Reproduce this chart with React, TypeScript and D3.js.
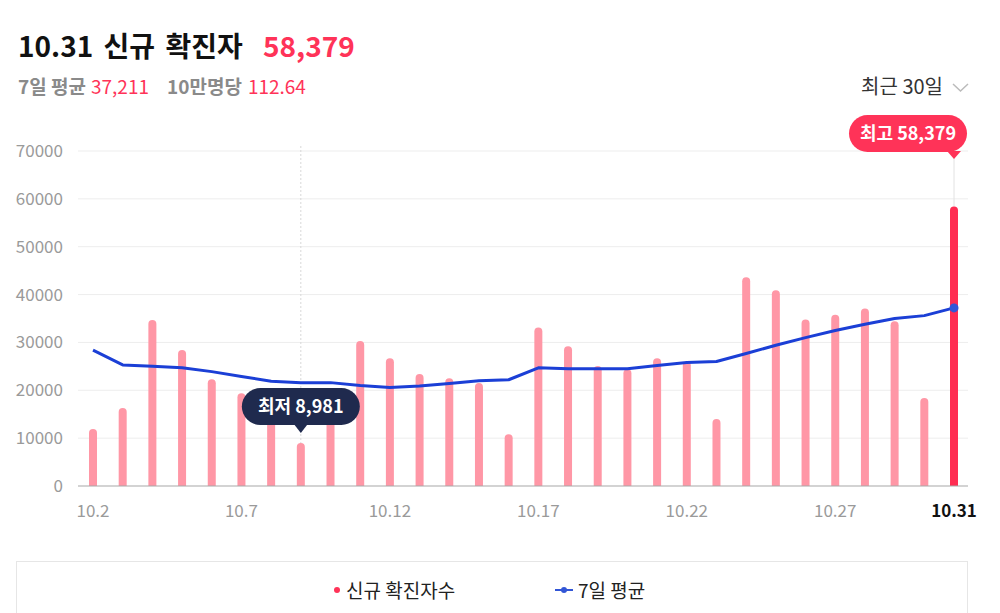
import React, { useRef, useEffect } from 'react';
import * as d3 from 'd3';

// 날짜 (10.2 ~ 10.31)
const dates = [
  '10.2', '10.3', '10.4', '10.5', '10.6', '10.7', '10.8', '10.9', '10.10', '10.11',
  '10.12', '10.13', '10.14', '10.15', '10.16', '10.17', '10.18', '10.19', '10.20', '10.21',
  '10.22', '10.23', '10.24', '10.25', '10.26', '10.27', '10.28', '10.29', '10.30', '10.31',
];
// 신규 확진자수
const cases = [
  11900, 16300, 34700, 28400, 22300, 19400, 16000, 8981, 15000, 30300,
  26700, 23400, 22500, 21500, 10800, 33100, 29200, 25100, 24400, 26700,
  26000, 14000, 43600, 40900, 34800, 35800, 37100, 34400, 18400, 58379,
];
// 7일 평균
const avg7 = [
  28400, 25300, 25000, 24700, 23900, 22900, 21900, 21600, 21600, 21000,
  20600, 20900, 21400, 22000, 22200, 24700, 24500, 24500, 24500, 25200,
  25800, 26000, 27700, 29400, 31000, 32500, 33800, 35000, 35600, 37211,
];
const yTicks = [0, 10000, 20000, 30000, 40000, 50000, 60000, 70000];
const xTickLabels = ['10.2', '10.7', '10.12', '10.17', '10.22', '10.27', '10.31'];

const FONT = '"Noto Sans CJK KR", "Noto Sans", sans-serif';
const RED = '#ff3358';
const PINK = '#ff97a6';
const BLUE = '#1b3fd6';

const App = () => {
  const ref = useRef<SVGSVGElement>(null);

  useEffect(() => {
    const svg = d3.select(ref.current);
    svg.selectAll('*').remove();
    svg.attr('font-family', FONT);

    const x = d3.scalePoint<string>().domain(dates).range([93, 954]);
    const y = d3.scaleLinear().domain([0, 70000]).range([486, 151]);

    // 헤더
    svg.append('text').attr('x', 18).attr('y', 57)
      .attr('font-size', 28).attr('font-weight', 700).attr('word-spacing', 4)
      .attr('fill', '#111').text('10.31 신규 확진자');
    svg.append('text').attr('x', 263).attr('y', 57)
      .attr('font-size', 28).attr('font-weight', 700)
      .attr('fill', RED).text('58,379');

    const h2 = svg.append('text').attr('x', 18).attr('y', 94).attr('font-size', 19);
    h2.append('tspan').attr('fill', '#8a8a8a').attr('font-weight', 700).text('7일 평균');
    h2.append('tspan').attr('fill', RED).attr('dx', 5).text('37,211');
    const h3 = svg.append('text').attr('x', 167).attr('y', 94).attr('font-size', 19);
    h3.append('tspan').attr('fill', '#8a8a8a').attr('font-weight', 700).text('10만명당');
    h3.append('tspan').attr('fill', RED).attr('dx', 6).text('112.64');

    svg.append('text').attr('x', 943).attr('y', 94).attr('text-anchor', 'end')
      .attr('font-size', 20).attr('fill', '#333').text('최근 30일');
    svg.append('path').attr('d', 'M953,84 L960.5,91 L968,84')
      .attr('fill', 'none').attr('stroke', '#bbb').attr('stroke-width', 1.5);

    // 그리드 + y축
    const grid = svg.append('g');
    grid.selectAll('line').data(yTicks.filter(d => d > 0)).enter().append('line')
      .attr('x1', 78).attr('x2', 968)
      .attr('y1', d => y(d)).attr('y2', d => y(d))
      .attr('stroke', '#ededed');
    svg.append('g').selectAll('text').data(yTicks).enter().append('text')
      .attr('x', 63).attr('y', d => y(d) + 6).attr('text-anchor', 'end')
      .attr('font-size', 17).attr('fill', '#9a9a9a').text(d => d);

    // 호버 세로선 (최저)
    const minIdx = cases.indexOf(d3.min(cases) as number);
    const maxIdx = cases.indexOf(d3.max(cases) as number);
    svg.append('line')
      .attr('x1', x(dates[minIdx])!).attr('x2', x(dates[minIdx])!)
      .attr('y1', 146).attr('y2', y(0))
      .attr('stroke', '#d8d8d8').attr('stroke-dasharray', '2,2');
    svg.append('line')
      .attr('x1', x(dates[maxIdx])!).attr('x2', x(dates[maxIdx])!)
      .attr('y1', 158).attr('y2', y(cases[maxIdx]))
      .attr('stroke', '#e2e2e2');

    // 막대
    const bw = 8;
    const barPath = (d: number, i: number) => {
      const cx = x(dates[i])!;
      const top = y(d);
      const r = bw / 2;
      return `M${cx - r},${y(0)} L${cx - r},${top + r} A${r},${r} 0 0 1 ${cx + r},${top + r} L${cx + r},${y(0)} Z`;
    };
    svg.append('g').selectAll('path').data(cases).enter().append('path')
      .attr('d', (d, i) => barPath(d, i))
      .attr('fill', (d, i) => (i === maxIdx ? '#ff2d52' : PINK));

    // 기준선
    svg.append('line').attr('x1', 78).attr('x2', 968)
      .attr('y1', y(0)).attr('y2', y(0)).attr('stroke', '#a8a8a8').attr('stroke-width', 1.2);

    // x축 라벨
    svg.append('g').selectAll('text').data(xTickLabels).enter().append('text')
      .attr('x', d => x(d)!).attr('y', 517).attr('text-anchor', 'middle')
      .attr('font-size', 17)
      .attr('font-weight', d => (d === '10.31' ? 700 : 400))
      .attr('fill', d => (d === '10.31' ? '#111' : '#9a9a9a'))
      .text(d => d);

    // 7일 평균 선
    const line = d3.line<number>().x((d, i) => x(dates[i])!).y(d => y(d));
    svg.append('path').datum(avg7).attr('d', line)
      .attr('fill', 'none').attr('stroke', BLUE).attr('stroke-width', 3)
      .attr('stroke-linejoin', 'round');
    svg.append('circle').attr('cx', x(dates[dates.length - 1])!).attr('cy', y(avg7[avg7.length - 1]))
      .attr('r', 4.5).attr('fill', '#3256d6');

    // 최저 툴팁
    const lx = x(dates[minIdx])!;
    const lBottom = y(cases[minIdx]) - 18;
    const lw = 118, lh = 37;
    const low = svg.append('g');
    low.append('path')
      .attr('d', `M${lx - 7},${lBottom - 1} L${lx},${lBottom + 8} L${lx + 7},${lBottom - 1} Z`)
      .attr('fill', '#1f2a4e');
    low.append('rect').attr('x', lx - lw / 2).attr('y', lBottom - lh).attr('width', lw).attr('height', lh)
      .attr('rx', lh / 2).attr('fill', '#1f2a4e');
    low.append('text').attr('x', lx).attr('y', lBottom - lh / 2 + 6.5).attr('text-anchor', 'middle')
      .attr('font-size', 18).attr('font-weight', 700).attr('fill', '#fff').text('최저 8,981');

    // 최고 툴팁
    const hx = x(dates[maxIdx])!;
    const hBottom = y(70000) + 1;
    const hw = 118;
    const hl = 967 - hw;
    const high = svg.append('g');
    high.append('path')
      .attr('d', `M${hx - 7},${hBottom - 1} L${hx},${hBottom + 7} L${hx + 7},${hBottom - 1} Z`)
      .attr('fill', RED);
    high.append('rect').attr('x', hl).attr('y', hBottom - lh).attr('width', hw).attr('height', lh)
      .attr('rx', lh / 2).attr('fill', RED);
    high.append('text').attr('x', hl + hw / 2).attr('y', hBottom - lh / 2 + 6.5).attr('text-anchor', 'middle')
      .attr('font-size', 18).attr('font-weight', 700).attr('fill', '#fff').text('최고 58,379');

    // 범례
    svg.append('rect').attr('x', 16.5).attr('y', 561.5).attr('width', 951).attr('height', 80)
      .attr('fill', '#fff').attr('stroke', '#e6e6e6');
    svg.append('circle').attr('cx', 337).attr('cy', 590).attr('r', 3).attr('fill', RED);
    svg.append('text').attr('x', 346).attr('y', 598).attr('font-size', 19).attr('fill', '#222').text('신규 확진자수');
    svg.append('line').attr('x1', 555).attr('x2', 573).attr('y1', 590).attr('y2', 590)
      .attr('stroke', '#3256d6').attr('stroke-width', 2);
    svg.append('circle').attr('cx', 564).attr('cy', 590).attr('r', 3).attr('fill', '#3256d6');
    svg.append('text').attr('x', 578).attr('y', 598).attr('font-size', 19).attr('fill', '#222').text('7일 평균');
  }, []);

  return (
    <svg ref={ref} width={1000} height={613}
      style={{ position: 'absolute', left: 0, top: 0, background: '#fff' }} />
  );
};

export default App;
